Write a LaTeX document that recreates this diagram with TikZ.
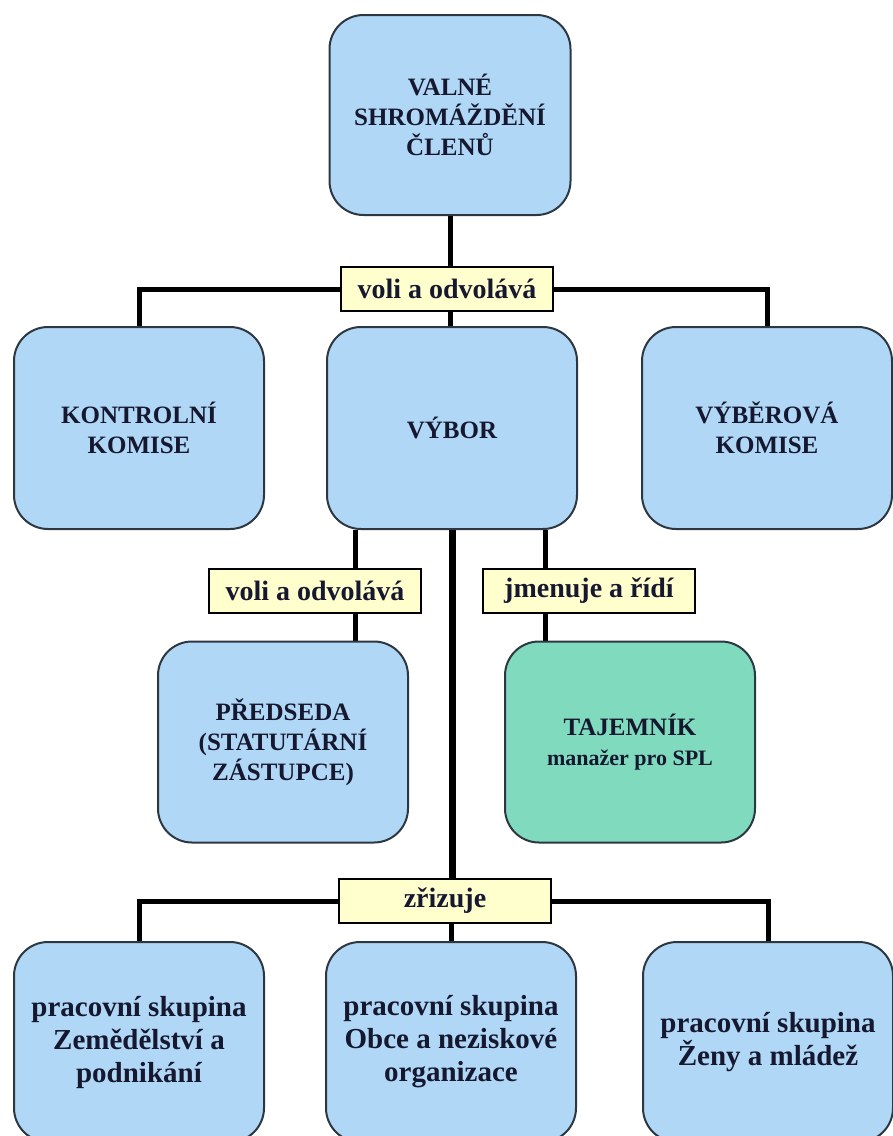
\documentclass[tikz,border=0pt]{standalone}
\usepackage{fontspec}
\setmainfont{Liberation Serif}
\usetikzlibrary{positioning,backgrounds}

\definecolor{boxblue}{RGB}{176,216,246}
\definecolor{boxgreen}{RGB}{128,218,190}
\definecolor{tagyellow}{RGB}{255,255,206}
\definecolor{ink}{RGB}{22,24,48}
\definecolor{rim}{RGB}{45,55,65}

\begin{document}
\begin{tikzpicture}[%
    x=1pt, y=-1pt,
    node distance=314pt,
    on grid,
    box/.style={draw=rim, line width=2pt, fill=boxblue, rounded corners=34pt,
      minimum width=250pt, minimum height=202pt, align=center, text=ink,
      font=\bfseries\fontsize{25}{30}\selectfont},
    group/.style={box, minimum height=200pt, font=\bfseries\fontsize{29}{33}\selectfont},
    tag/.style={draw=black, line width=2pt, fill=tagyellow, minimum width=212pt,
      minimum height=44pt, inner sep=0pt, text=ink,
      font=\bfseries\fontsize{28}{30}\selectfont},
    link/.style={line width=5pt},
    trunk/.style={line width=7pt}
  ]
    \useasboundingbox (0,0) rectangle (893,1136);
    \clip (0,0) rectangle (893,1136);

    \node[box, minimum width=241pt, minimum height=200pt] (valne) at (450,115)
      {VALNÉ\\SHROMÁŽDĚNÍ\\ČLENŮ};
    \node[tag] (volba) at (447,289) {voli a odvolává};

    \node[box] (vybor) at (452,428) {VÝBOR};
    \node[box] (kontrolni) [left=313pt of vybor] {KONTROLNÍ\\KOMISE};
    \node[box] (vyberova) [right=315pt of vybor] {VÝBĚROVÁ\\KOMISE};

    \node[tag] (volba2) at (315,591) {voli a odvolává};
    \node[tag] (jmenuje) at (589,591) {jmenuje a řídí};

    \node[box, minimum height=201pt] (predseda) at (283,742)
      {PŘEDSEDA\\(STATUTÁRNÍ\\ZÁSTUPCE)};
    \node[box, fill=boxgreen, minimum height=201pt] (tajemnik) at (630,742)
      {TAJEMNÍK\\{\fontsize{22}{30}\selectfont manažer pro SPL}};

    \node[tag] (zrizuje) at (445,901) {zřizuje};

    \node[group] (skup2) at (451,1042) {pracovní skupina\\Obce a neziskové\\organizace};
    \node[group] (skup1) [left=312pt of skup2] {pracovní skupina\\Zemědělství a\\podnikání};
    \node[group] (skup3) [right=317pt of skup2] {pracovní skupina\\Ženy a mládež};

    \coordinate (v2) at ([xshift=-97pt]vybor.south);
    \coordinate (v3) at ([xshift=93pt]vybor.south);

    \begin{scope}[on background layer]
      \draw[link] (valne.south) -- (valne.south |- vybor.north);
      \draw[link] (kontrolni.north) |- (volba.west);
      \draw[link] (vyberova.north) |- (volba.east);
      \draw[link] (v2) -- (v2 |- predseda.north);
      \draw[link] (v3) -- (v3 |- tajemnik.north);
      \draw[trunk] (vybor.south) -- (vybor.south |- zrizuje.north);
      \draw[link] (skup1.north) |- (zrizuje.west);
      \draw[link] (skup3.north) |- (zrizuje.east);
      \draw[link] (skup2.north) -- (skup2.north |- zrizuje.south);
    \end{scope}
  \end{tikzpicture}
\end{document}
